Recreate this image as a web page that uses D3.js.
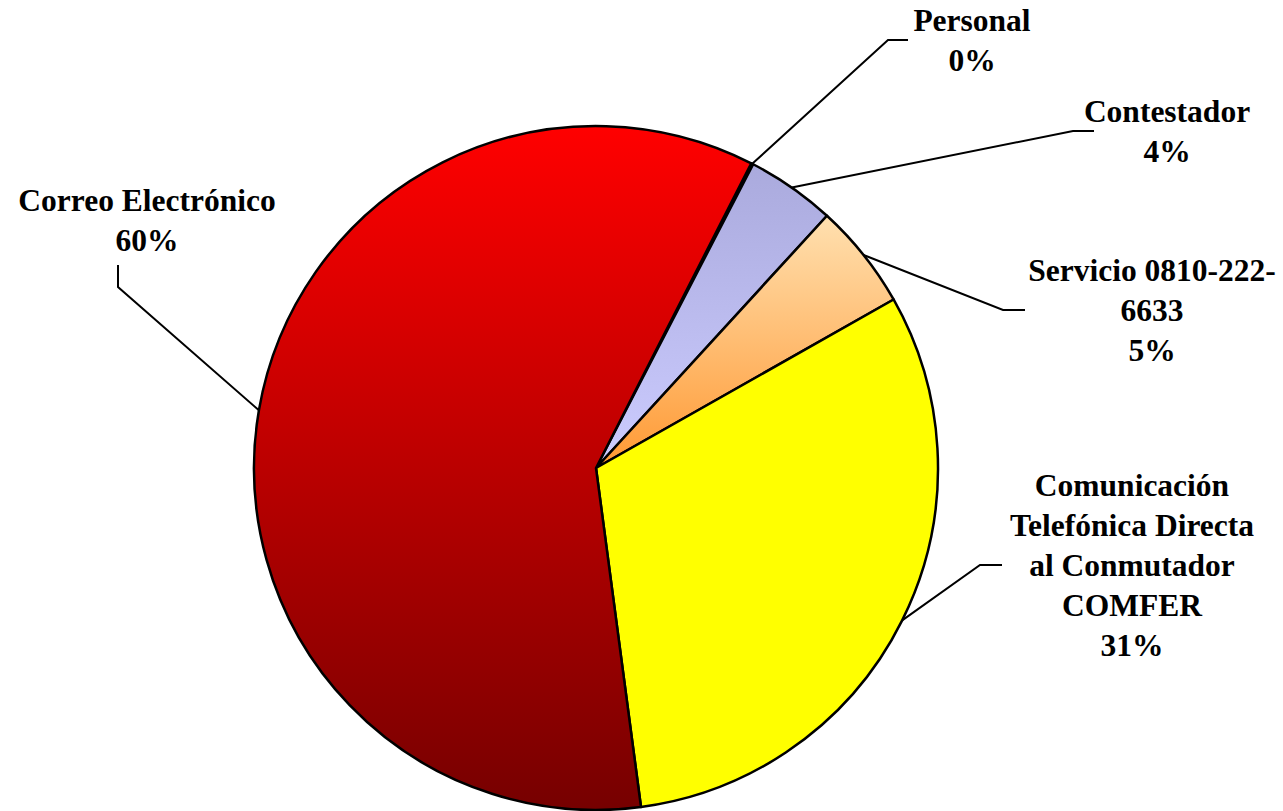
<!DOCTYPE html>
<html>
<head>
<meta charset="utf-8">
<script src="https://cdn.jsdelivr.net/npm/d3@7"></script>
<style>
  html, body { margin: 0; padding: 0; background: #fff; }
  svg { display: block; }
  .lbl { font-family: "Liberation Serif", "Times New Roman", serif; font-weight: bold; font-size: 31.5px; fill: #000; }
</style>
</head>
<body>
<svg id="chart" width="1283" height="811"></svg>
<script>
// Categories in clockwise order, starting from the first slice
const categories = ['Personal', 'Contestador', 'Servicio 0810-222-6633', 'Comunicación Telefónica Directa al Conmutador COMFER', 'Correo Electrónico'];
const values = [0.1, 4.2, 5.0, 31.1, 59.6];

// Label lines as they are broken in the picture
const labelLines = [
  ['Personal'],
  ['Contestador'],
  ['Servicio 0810-222-', '6633'],
  ['Comunicación', 'Telefónica Directa', 'al Conmutador', 'COMFER'],
  ['Correo Electrónico'],
];

// Fill gradients (top -> bottom)
const gradients = [
  ['#aaaadd', '#ccccff'],
  ['#aaaadd', '#ccccff'],
  ['#ffe0b0', '#ff9933'],
  ['#ffff00', '#ffff00'],
  ['#ff0000', '#760000'],
];

const width = 1283, height = 811;
const cx = 596, cy = 468, radius = 342;
const startDeg = 27;

// Label layout: text center x, first baseline y, elbow point, horizontal end
const labelLayout = [
  { x: 972, y: 31, elbow: [888, 40], end: [908, 40] },
  { x: 1167, y: 122, elbow: [1073, 131], end: [1094, 131] },
  { x: 1152, y: 281, elbow: [1003, 310], end: [1025, 310] },
  { x: 1132, y: 496, elbow: [980, 565], end: [1002, 565] },
  { x: 147, y: 211, elbow: [118, 287], end: [118, 265] },
];
const lineGap = 40;

const svg = d3.select('#chart');
const defs = svg.append('defs');

gradients.forEach((g, i) => {
  const lg = defs.append('linearGradient')
    .attr('id', `grad${i}`)
    .attr('x1', 0).attr('y1', 0).attr('x2', 0).attr('y2', 1);
  lg.append('stop').attr('offset', '0%').attr('stop-color', g[0]);
  lg.append('stop').attr('offset', '100%').attr('stop-color', g[1]);
});

const pie = d3.pie()
  .sort(null)
  .startAngle(startDeg * Math.PI / 180)
  .endAngle(startDeg * Math.PI / 180 + 2 * Math.PI);

const arcs = pie(values);
const arc = d3.arc().innerRadius(0).outerRadius(radius);
const total = d3.sum(values);

const g = svg.append('g').attr('transform', `translate(${cx},${cy})`);

g.selectAll('path.slice')
  .data(arcs)
  .join('path')
  .attr('class', 'slice')
  .attr('d', arc)
  .attr('fill', (d, i) => `url(#grad${i})`)
  .attr('stroke', '#000')
  .attr('stroke-width', 2.5)
  .attr('stroke-linejoin', 'round');

// Leader lines
const leaders = svg.append('g');
arcs.forEach((d, i) => {
  const mid = (d.startAngle + d.endAngle) / 2;
  const p0 = [cx + radius * Math.sin(mid), cy - radius * Math.cos(mid)];
  const L = labelLayout[i];
  leaders.append('polyline')
    .attr('points', [p0, L.elbow, L.end].map(p => p.join(',')).join(' '))
    .attr('fill', 'none')
    .attr('stroke', '#000')
    .attr('stroke-width', 2);
});

// Labels
const labels = svg.append('g');
arcs.forEach((d, i) => {
  const L = labelLayout[i];
  const pct = Math.round(d.value / total * 100) + '%';
  const lines = labelLines[i].concat([pct]);
  const t = labels.append('text')
    .attr('class', 'lbl')
    .attr('text-anchor', 'middle');
  lines.forEach((s, k) => {
    t.append('tspan')
      .attr('x', L.x)
      .attr('y', L.y + k * lineGap)
      .text(s);
  });
});
</script>
</body>
</html>
